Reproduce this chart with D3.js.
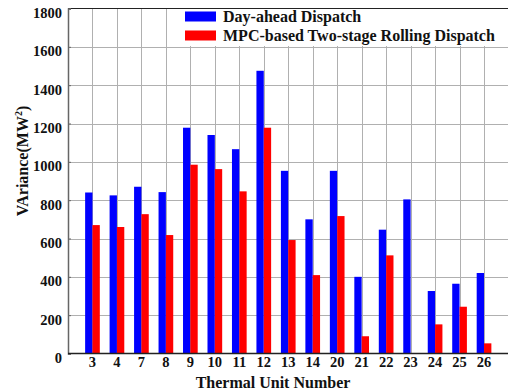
<!DOCTYPE html>
<html>
<head>
<meta charset="utf-8">
<script src="https://cdn.jsdelivr.net/npm/d3@7"></script>
<style>
  html, body { margin: 0; padding: 0; background: #fff; }
  svg { display: block; }
  text { font-family: "Liberation Serif", "Times New Roman", serif; font-weight: bold; fill: #111; }
</style>
</head>
<body>
<svg id="chart" width="508" height="391"></svg>
<script>
// Thermal units and their output variance under the two dispatch schemes
const units = ["3", "4", "7", "8", "9", "10", "11", "12", "13", "14", "20", "21", "22", "23", "24", "25", "26"];
const dayAhead = [840, 825, 870, 842, 1178, 1140, 1066, 1475, 953, 700, 953, 400, 646, 804, 326, 364, 420];
const mpcRolling = [670, 660, 727, 618, 985, 962, 846, 1178, 592, 409, 717, 90, 512, 0, 152, 244, 53];
const seriesNames = ["Day-ahead Dispatch", "MPC-based Two-stage Rolling Dispatch"];
const seriesColors = ["#0000ff", "#ff0000"];
const yTicks = [0, 200, 400, 600, 800, 1000, 1200, 1400, 1600, 1800];

const svg = d3.select("#chart");
const plotL = 68, plotR = 508.5, plotT = 8.5, plotB = 353.5;
const step = (plotR - plotL) / (units.length + 1);

// one band per unit, centred on evenly spaced positions inside the frame
const x = d3.scaleBand()
  .domain(units)
  .range([plotL + step / 2, plotR - step / 2])
  .padding(0);
const x1 = d3.scaleBand()
  .domain([0, 1])
  .range([x.bandwidth() * 0.2, x.bandwidth() * 0.8]);
const y = d3.scaleLinear().domain([0, 1800]).range([plotB, plotT]);

// grid
const grid = svg.append("g");
grid.selectAll("line.h").data(yTicks.slice(1, -1)).join("line")
  .attr("x1", plotL).attr("x2", plotR)
  .attr("y1", d => Math.round(y(d)) + 0.5).attr("y2", d => Math.round(y(d)) + 0.5)
  .attr("stroke", "#b0b0b0").attr("stroke-width", 1);
grid.selectAll("line.v").data(units).join("line")
  .attr("x1", d => Math.round(x(d) + x.bandwidth() / 2) + 0.5)
  .attr("x2", d => Math.round(x(d) + x.bandwidth() / 2) + 0.5)
  .attr("y1", plotT).attr("y2", plotB)
  .attr("stroke", "#b0b0b0").attr("stroke-width", 1);

// bars
const rows = units.map((u, i) => ({ unit: u, vals: [dayAhead[i], mpcRolling[i]] }));
svg.append("g").selectAll("g").data(rows).join("g")
  .attr("transform", d => `translate(${x(d.unit)},0)`)
  .selectAll("rect").data(d => d.vals.map((v, k) => ({ v, k })))
  .join("rect")
  .attr("x", d => x1(d.k))
  .attr("width", x1.bandwidth())
  .attr("y", d => y(d.v))
  .attr("height", d => plotB - y(d.v))
  .attr("fill", d => seriesColors[d.k]);

// legend (white panel covering the grid)
const legend = svg.append("g");
legend.append("rect")
  .attr("x", 180).attr("y", plotT).attr("width", plotR - 180).attr("height", 37.5)
  .attr("fill", "#fff");
seriesNames.forEach((name, k) => {
  const ly = 11.5 + k * 19;
  legend.append("rect")
    .attr("x", 185).attr("y", ly).attr("width", 31).attr("height", 10)
    .attr("fill", seriesColors[k]);
  legend.append("text")
    .attr("x", 223).attr("y", ly + 10.5)
    .attr("font-size", 16)
    .text(name);
});

// frame: top border, left and bottom axes
svg.append("line").attr("x1", plotL).attr("x2", plotR).attr("y1", plotT).attr("y2", plotT)
  .attr("stroke", "#222").attr("stroke-width", 1.2);

const yAxis = d3.axisLeft(y).tickValues(yTicks).tickSize(-3).tickPadding(6).tickFormat(d3.format("d"));
const yg = svg.append("g").attr("transform", `translate(${plotL},0)`).call(yAxis);
yg.select(".domain").attr("stroke", "#666").attr("stroke-width", 1.5);
yg.selectAll(".tick line").attr("stroke", "#666");
yg.selectAll(".tick text").attr("font-size", 14.5).attr("dy", "0.62em")
  .attr("font-family", "Liberation Serif").attr("font-weight", "bold").attr("fill", "#111");

const xAxis = d3.axisBottom(x).tickSize(0).tickPadding(3);
const xg = svg.append("g").attr("transform", `translate(0,${plotB})`).call(xAxis);
xg.select(".domain").attr("d", `M${plotL},0H${plotR}`).attr("stroke", "#222").attr("stroke-width", 1.5);
xg.selectAll(".tick text").attr("font-size", 14.5)
  .attr("font-family", "Liberation Serif").attr("font-weight", "bold").attr("fill", "#111");

// axis titles
svg.append("text")
  .attr("x", 273).attr("y", 387.5)
  .attr("text-anchor", "middle").attr("font-size", 16)
  .text("Thermal Unit Number");
const yt = svg.append("text")
  .attr("transform", "translate(28,161) rotate(-90)")
  .attr("text-anchor", "middle").attr("font-size", 16);
yt.append("tspan").text("VAriance(MW");
yt.append("tspan").attr("font-size", 10).attr("dy", -6).text("2");
yt.append("tspan").attr("dy", 6).text(")");
</script>
</body>
</html>
